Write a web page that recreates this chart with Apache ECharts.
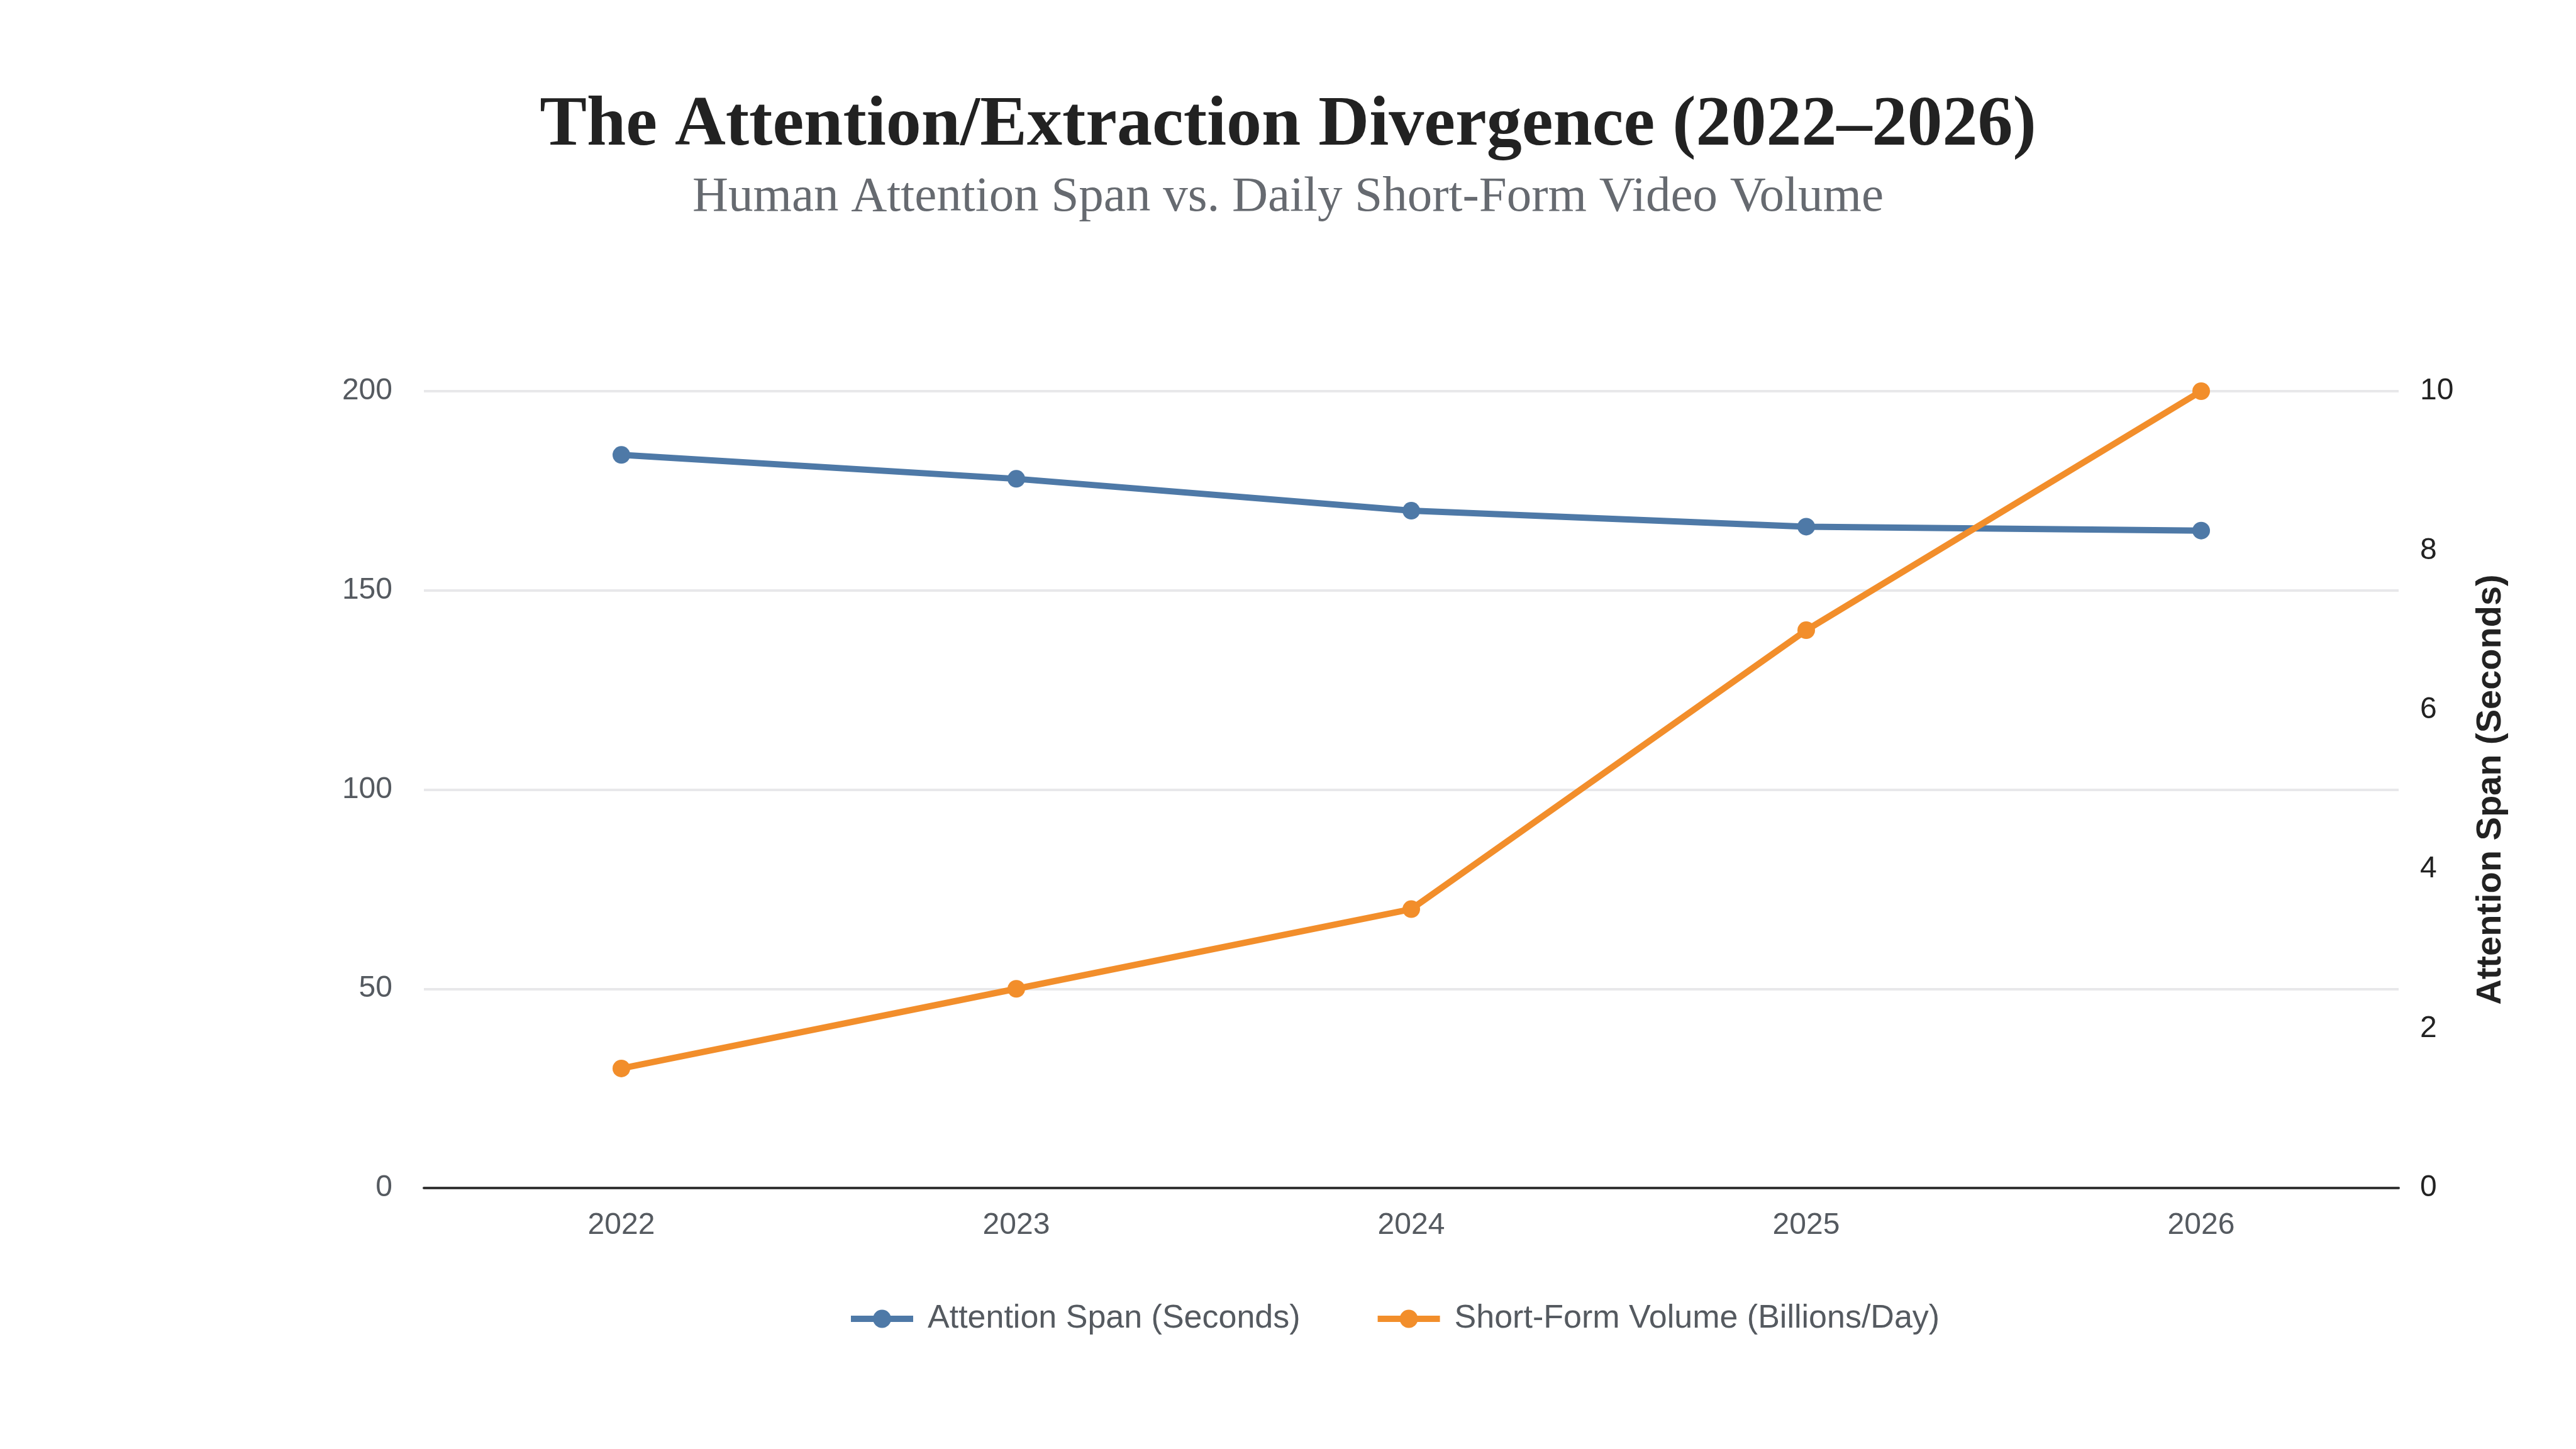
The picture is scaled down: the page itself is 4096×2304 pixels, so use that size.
<!DOCTYPE html>
<html><head><meta charset="utf-8">
<script src="https://cdn.jsdelivr.net/npm/echarts@6/dist/echarts.min.js"></script>
<style>html,body{margin:0;padding:0;background:#fff}#c{width:4096px;height:2304px}</style>
</head><body><div id="c"></div>
<script>
const years = ['2022','2023','2024','2025','2026'];
const attentionSpan = [9.2, 8.9, 8.5, 8.3, 8.25];
const shortFormVolume = [30, 50, 70, 140, 200];
const leftTicks = {min:0, max:200, interval:50};
const rightTicks = {min:0, max:10, interval:2};

const chart = echarts.init(document.getElementById('c'));
chart.setOption({
  backgroundColor:'#ffffff',
  title:[{
    text:'The Attention/Extraction Divergence (2022–2026)',
    left:'center', top:140,
    textStyle:{fontFamily:'Liberation Serif', fontWeight:'bold', fontSize:112, color:'#222'}
  },{
    text:'Human Attention Span vs. Daily Short-Form Video Volume',
    left:'center', top:270,
    textStyle:{fontFamily:'Liberation Serif', fontWeight:'normal', fontSize:79, color:'#666a70'}
  }],
  grid:{left:674, right:4096-3814, top:622, bottom:2304-1889, containLabel:false},
  legend:{
    top:2066, left:1343, itemWidth:99, itemHeight:36, itemGap:118,
    textStyle:{fontFamily:'Liberation Sans', fontSize:52, color:'#555a60', verticalAlign:'middle', padding:[0,0,0,18]},
    lineStyle:{width:10},
    data:['Attention Span (Seconds)','Short-Form Volume (Billions/Day)']
  },
  xAxis:{
    type:'category', data:years, boundaryGap:true,
    axisLine:{lineStyle:{color:'#333', width:4}},
    axisTick:{show:false},
    axisLabel:{fontFamily:'Liberation Sans', fontSize:48, color:'#555a60', margin:36}
  },
  yAxis:[
    {type:'value', min:leftTicks.min, max:leftTicks.max, interval:leftTicks.interval,
     axisLine:{show:false}, axisTick:{show:false},
     axisLabel:{fontFamily:'Liberation Sans', fontSize:48, color:'#555a60', margin:50},
     splitLine:{lineStyle:{color:'#e8e8ea', width:4}}},
    {type:'value', position:'right', min:rightTicks.min, max:rightTicks.max, interval:rightTicks.interval,
     name:'Attention Span (Seconds)', nameLocation:'middle', nameRotate:90, nameGap:119,
     nameTextStyle:{fontFamily:'Liberation Sans', fontWeight:'bold', fontSize:56, color:'#222'},
     axisLine:{show:false}, axisTick:{show:false},
     axisLabel:{fontFamily:'Liberation Sans', fontSize:48, color:'#222', margin:34},
     splitLine:{show:false}}
  ],
  series:[
    {name:'Attention Span (Seconds)', type:'line', yAxisIndex:1, data:attentionSpan,
     symbol:'circle', symbolSize:28, lineStyle:{width:10, color:'#4e79a7'}, itemStyle:{color:'#4e79a7'}},
    {name:'Short-Form Volume (Billions/Day)', type:'line', yAxisIndex:0, data:shortFormVolume,
     symbol:'circle', symbolSize:28, lineStyle:{width:10, color:'#f28e2b'}, itemStyle:{color:'#f28e2b'}}
  ]
});
</script></body></html>
